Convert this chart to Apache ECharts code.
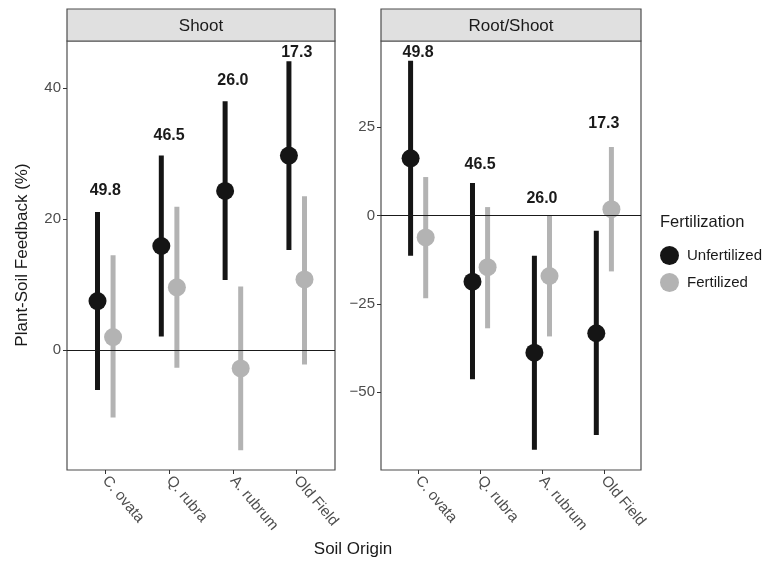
<!DOCTYPE html>
<html>
<head>
<meta charset="utf-8">
<script src="https://cdn.jsdelivr.net/npm/echarts@6/dist/echarts.min.js"></script>
<style>html,body{margin:0;padding:0;background:#fff}#c{width:771px;height:563px}</style>
</head>
<body>
<div id="c"></div>
<script>
// ---- data ----
var categories = ["C. ovata", "Q. rubra", "A. rubrum", "Old Field"];
var panels = ["Shoot", "Root/Shoot"];
var groups = ["Unfertilized", "Fertilized"];

// Shoot panel
var shootUnfMean = [7.5, 15.9, 24.3, 29.7];
var shootUnfLow  = [-6.1, 2.1, 10.7, 15.3];
var shootUnfHigh = [21.1, 29.7, 38.0, 44.1];
var shootFerMean = [2.0, 9.6, -2.8, 10.8];
var shootFerLow  = [-10.3, -2.7, -15.3, -2.2];
var shootFerHigh = [14.5, 21.9, 9.7, 23.5];

// Root/Shoot panel
var rsUnfMean = [16.2, -18.7, -38.8, -33.3];
var rsUnfLow  = [-11.4, -46.3, -66.3, -62.1];
var rsUnfHigh = [43.8, 9.2, -11.4, -4.3];
var rsFerMean = [-6.2, -14.6, -17.1, 1.8];
var rsFerLow  = [-23.4, -31.9, -34.2, -15.8];
var rsFerHigh = [10.9, 2.4, 0.0, 19.4];

// annotation labels
var labelText = ["49.8", "46.5", "26.0", "17.3"];
var shootLabelY = [24.3, 32.7, 41.1, 45.4];
var rsLabelY = [46.0, 14.5, 4.7, 25.9];

// axis ticks
var shootTicks = [0, 20, 40];
var rsTicks = [-50, -25, 0, 25];

// ---- styles ----
var colUnf = "#151515", colFer = "#b3b3b3";
var dodge = 0.122;
var font = "Liberation Sans, Arial, Helvetica, sans-serif";

function fmtNum(v){ return v < 0 ? "\u2212" + Math.abs(v) : String(v); }

function errSeries(name, gi, lo, hi, off, color){
  var data = categories.map(function(c,i){ return [i + 1 + off, lo[i], hi[i]]; });
  return {
    type: "custom", name: name, xAxisIndex: gi, yAxisIndex: gi, data: data, silent: true, z: 2,
    itemStyle: { color: color },
    renderItem: function(params, api){
      var p1 = api.coord([api.value(0), api.value(1)]);
      var p2 = api.coord([api.value(0), api.value(2)]);
      return { type: "line", shape: {x1:p1[0], y1:p1[1], x2:p2[0], y2:p2[1]},
               style: { stroke: color, lineWidth: 5 } };
    },
    encode: { x: 0, y: [1, 2] }
  };
}
function ptSeries(name, gi, mean, off, color){
  return {
    type: "scatter", name: name, xAxisIndex: gi, yAxisIndex: gi, z: 3,
    symbol: "circle", symbolSize: 18, itemStyle: { color: color, opacity: 1 },
    data: categories.map(function(c,i){ return [i + 1 + off, mean[i]]; })
  };
}
function labelSeries(gi, ys){
  return {
    type: "custom", xAxisIndex: gi, yAxisIndex: gi, silent: true, z: 4,
    data: categories.map(function(c,i){ return [i + 1, ys[i]]; }),
    renderItem: function(params, api){
      var p = api.coord([api.value(0), api.value(1)]);
      return { type: "text", x: p[0], y: p[1],
        style: { text: labelText[params.dataIndex], fill: "#1a1a1a", font: "bold 16px " + font,
                 align: "center", verticalAlign: "middle" } };
    }
  };
}
function zeroLine(gi){
  return {
    type: "line", xAxisIndex: gi, yAxisIndex: gi, data: [], z: 1, silent: true,
    markLine: { silent: true, symbol: "none", label: { show: false },
      lineStyle: { color: "#1a1a1a", width: 1.2, type: "solid" }, data: [{ yAxis: 0 }] }
  };
}

var grids = [
  { left: 67, top: 41, width: 268, height: 429 },
  { left: 381, top: 41, width: 260, height: 429 }
];
var yRanges = [[-18.3, 47.2], [-72.0, 49.4]];
var yTicks = [shootTicks, rsTicks];

var option = {
  animation: false,
  backgroundColor: "#ffffff",
  grid: grids.map(function(g){ return Object.assign({ show: true, borderColor: "#4d4d4d", borderWidth: 1.2, backgroundColor: "transparent", containLabel: false }, g); }),
  xAxis: [0,1].map(function(gi){ return {
    type: "value", gridIndex: gi, min: 0.4, max: 4.6,
    splitLine: { show: false },
    axisLine: { show: false, onZero: false },
    axisTick: { show: true, customValues: [1,2,3,4], length: 4, lineStyle: { color: "#333" } },
    axisLabel: { show: true, customValues: [1,2,3,4], rotate: -50, margin: 8,
      color: "#4d4d4d", fontFamily: font, fontSize: 15,
      formatter: function(v){ var c = categories[Math.round(v) - 1]; return c || ""; } }
  }; }),
  yAxis: [0,1].map(function(gi){ return {
    type: "value", gridIndex: gi, min: yRanges[gi][0], max: yRanges[gi][1],
    splitLine: { show: false },
    axisLine: { show: false, onZero: false },
    axisTick: { show: true, customValues: yTicks[gi], length: 4, lineStyle: { color: "#333" } },
    axisLabel: { show: true, customValues: yTicks[gi], margin: 6, color: "#4d4d4d",
      fontFamily: font, fontSize: 15, formatter: fmtNum }
  }; }),
  legend: {
    orient: "vertical", left: 655, top: 241, itemWidth: 19, itemHeight: 19, itemGap: 8,
    icon: "circle", data: groups,
    textStyle: { fontFamily: font, fontSize: 15, color: "#1a1a1a", padding: [0,0,0,3] }
  },
  graphic: [
    { type: "rect", shape: { x: 67, y: 9, width: 268, height: 32 }, style: { fill: "#e0e0e0", stroke: "#4d4d4d", lineWidth: 1.2 } },
    { type: "rect", shape: { x: 381, y: 9, width: 260, height: 32 }, style: { fill: "#e0e0e0", stroke: "#4d4d4d", lineWidth: 1.2 } },
    { type: "text", x: 201, y: 26, style: { text: panels[0], font: "17px " + font, fill: "#1a1a1a", align: "center", verticalAlign: "middle" } },
    { type: "text", x: 511, y: 26, style: { text: panels[1], font: "17px " + font, fill: "#1a1a1a", align: "center", verticalAlign: "middle" } },
    { type: "text", x: 660, y: 222, style: { text: "Fertilization", font: "16.5px " + font, fill: "#1a1a1a", align: "left", verticalAlign: "middle" } },
    { type: "text", x: 353, y: 549, style: { text: "Soil Origin", font: "17px " + font, fill: "#1a1a1a", align: "center", verticalAlign: "middle" } },
    { type: "text", x: 22, y: 255, rotation: Math.PI/2, style: { text: "Plant-Soil Feedback (%)", font: "17px " + font, fill: "#1a1a1a", align: "center", verticalAlign: "middle" } }
  ],
  series: [
    zeroLine(0), zeroLine(1),
    errSeries("Unfertilized", 0, shootUnfLow, shootUnfHigh, -dodge, colUnf),
    errSeries("Fertilized", 0, shootFerLow, shootFerHigh, dodge, colFer),
    errSeries("Unfertilized", 1, rsUnfLow, rsUnfHigh, -dodge, colUnf),
    errSeries("Fertilized", 1, rsFerLow, rsFerHigh, dodge, colFer),
    ptSeries("Unfertilized", 0, shootUnfMean, -dodge, colUnf),
    ptSeries("Fertilized", 0, shootFerMean, dodge, colFer),
    ptSeries("Unfertilized", 1, rsUnfMean, -dodge, colUnf),
    ptSeries("Fertilized", 1, rsFerMean, dodge, colFer),
    labelSeries(0, shootLabelY),
    labelSeries(1, rsLabelY)
  ]
};
var chart = echarts.init(document.getElementById("c"), null, { renderer: "canvas" });
chart.setOption(option);
</script>
</body>
</html>
